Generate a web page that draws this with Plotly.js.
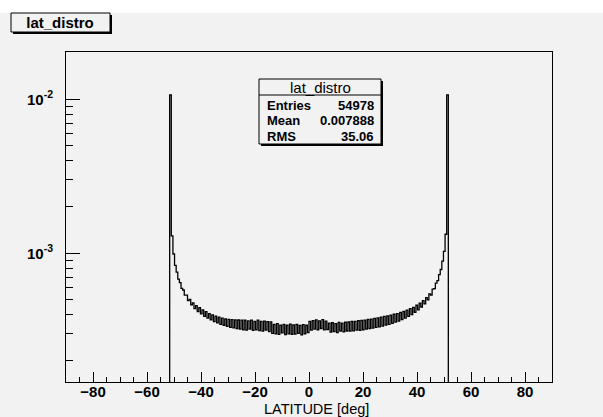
<!DOCTYPE html>
<html>
<head>
<meta charset="utf-8">
<script src="https://cdn.plot.ly/plotly-3.0.1.min.js"></script>
<style>
  html, body { margin: 0; padding: 0; background: #ffffff; }
  #chart { width: 603px; height: 417px; }
</style>
</head>
<body>
<div id="chart"></div>
<script>
// ---- histogram definition -------------------------------------------------
const histName = 'lat_distro';
const xAxisTitle = 'LATITUDE [deg]';
const firstBinLow = -51.6;   // lower edge of the first filled bin [deg]
const binWidth = 0.6;        // bin width [deg]

// bin contents (normalised), from -51.6 deg to +51.6 deg
const binContent = [
  1.07e-2, 1.30e-3, 9.90e-4, 8.35e-4, 7.55e-4, 6.80e-4, 6.45e-4, 5.92e-4, 5.78e-4, 5.36e-4,
  5.36e-4, 4.93e-4, 5.02e-4, 4.62e-4, 4.77e-4, 4.38e-4, 4.58e-4, 4.19e-4, 4.43e-4, 4.04e-4,
  4.29e-4, 3.90e-4, 4.18e-4, 3.79e-4, 4.06e-4, 3.70e-4, 3.98e-4, 3.60e-4, 3.91e-4, 3.53e-4,
  3.85e-4, 3.46e-4, 3.80e-4, 3.41e-4, 3.75e-4, 3.36e-4, 3.72e-4, 3.31e-4, 3.71e-4, 3.28e-4,
  3.69e-4, 3.24e-4, 3.69e-4, 3.22e-4, 3.68e-4, 3.19e-4, 3.68e-4, 3.17e-4, 3.64e-4, 3.22e-4,
  3.68e-4, 3.16e-4, 3.62e-4, 3.19e-4, 3.68e-4, 3.15e-4, 3.62e-4, 3.13e-4, 3.63e-4, 3.17e-4,
  3.60e-4, 3.10e-4, 3.59e-4, 3.02e-4, 3.45e-4, 3.00e-4, 3.49e-4, 2.98e-4, 3.42e-4, 3.04e-4,
  3.46e-4, 2.97e-4, 3.41e-4, 3.00e-4, 3.47e-4, 2.98e-4, 3.43e-4, 2.99e-4, 3.45e-4, 3.02e-4,
  3.40e-4, 2.96e-4, 3.44e-4, 3.00e-4, 3.41e-4, 3.06e-4,
  3.62e-4, 3.17e-4, 3.66e-4, 3.22e-4, 3.70e-4, 3.19e-4, 3.64e-4, 3.25e-4, 3.71e-4, 3.18e-4,
  3.63e-4, 3.20e-4, 3.52e-4, 3.08e-4, 3.55e-4, 3.10e-4, 3.50e-4, 3.06e-4, 3.56e-4, 3.12e-4,
  3.52e-4, 3.09e-4, 3.57e-4, 3.13e-4, 3.58e-4, 3.12e-4, 3.61e-4, 3.14e-4, 3.62e-4, 3.17e-4,
  3.65e-4, 3.16e-4, 3.67e-4, 3.19e-4, 3.68e-4, 3.22e-4, 3.72e-4, 3.25e-4, 3.74e-4, 3.27e-4,
  3.78e-4, 3.30e-4, 3.81e-4, 3.33e-4, 3.85e-4, 3.37e-4, 3.89e-4, 3.42e-4, 3.92e-4, 3.46e-4,
  3.96e-4, 3.51e-4, 4.02e-4, 3.57e-4, 4.06e-4, 3.63e-4, 4.13e-4, 3.71e-4, 4.19e-4, 3.79e-4,
  4.28e-4, 3.89e-4, 4.37e-4, 4.00e-4, 4.46e-4, 4.14e-4, 4.60e-4, 4.29e-4, 4.75e-4, 4.48e-4,
  4.93e-4, 4.70e-4, 5.16e-4, 4.98e-4, 5.46e-4, 5.35e-4, 5.85e-4, 5.90e-4, 6.40e-4, 6.65e-4,
  7.28e-4, 7.85e-4, 8.90e-4, 1.03e-3, 1.33e-3, 1.07e-2
];

// statistics box
const statLabels = ['Entries', 'Mean', 'RMS'];
const statValues = ['54978', '0.007888', '35.06'];

// axis ticks
const xMajorTicks = [-80, -60, -40, -20, 0, 20, 40, 60, 80];
const yDecadeTicks = [1e-3, 1e-2];
const yDecadeLabels = ['10<sup>-3</sup>', '10<sup>-2</sup>'];
const yMinorTicks = [2e-4, 3e-4, 4e-4, 5e-4, 6e-4, 7e-4, 8e-4, 9e-4,
                     2e-3, 3e-3, 4e-3, 5e-3, 6e-3, 7e-3, 8e-3, 9e-3, 2e-2];

// ---- page geometry --------------------------------------------------------
const W = 603, H = 417;
const M = { l: 66, r: 51, t: 52, b: 35 };
const PW = W - M.l - M.r, PH = H - M.t - M.b;
const px = x => (x - M.l) / PW;          // pixel column -> paper x
const py = y => 1 - (y - M.t) / PH;      // pixel row    -> paper y

const FONT = 'Liberation Sans, Arial, Helvetica, sans-serif';
const BG = '#f2f2f2';

// ---- step outline of the histogram ---------------------------------------
// empty bins lie below the log range, so the outline drops to the frame
const emptyLevel = 1e-6;
const xs = [firstBinLow];
const ys = [emptyLevel];
binContent.forEach((c, i) => {
  xs.push(firstBinLow + i * binWidth);
  ys.push(c);
});
xs.push(firstBinLow + binContent.length * binWidth);
ys.push(emptyLevel);

const trace = {
  type: 'scatter',
  mode: 'lines',
  x: xs,
  y: ys,
  line: { shape: 'hv', color: '#000000', width: 1.3 },
  hoverinfo: 'skip',
  showlegend: false
};

// ---- boxes: histogram title pave and statistics pave ---------------------
function pave(x0, y0, x1, y1) {
  return [
    { type: 'rect', xref: 'paper', yref: 'paper', layer: 'above',
      x0: px(x0 + 2), x1: px(x1 + 2), y0: py(y1 + 2), y1: py(y0 + 2),
      fillcolor: '#000000', line: { width: 0 } },
    { type: 'rect', xref: 'paper', yref: 'paper', layer: 'above',
      x0: px(x0), x1: px(x1), y0: py(y1), y1: py(y0),
      fillcolor: BG, line: { color: '#000000', width: 1 } }
  ];
}

const shapes = [
  // white strip above the canvas
  { type: 'rect', xref: 'paper', yref: 'paper', layer: 'below',
    x0: px(0), x1: px(W), y0: py(13), y1: py(0),
    fillcolor: '#ffffff', line: { width: 0 } },
  ...pave(11, 13, 110, 32),
  ...pave(259, 79, 381, 144),
  { type: 'line', xref: 'paper', yref: 'paper', layer: 'above',
    x0: px(259), x1: px(381), y0: py(95), y1: py(95),
    line: { color: '#000000', width: 1 } }
];

const statRows = [105, 120, 136];
const annotations = [
  { text: histName, xref: 'paper', yref: 'paper', x: px(320), y: py(87),
    xanchor: 'center', yanchor: 'middle', showarrow: false,
    font: { family: FONT, size: 15, color: '#000000' } },
  // x-axis title, set toward the right like the ROOT default
  { text: xAxisTitle, xref: 'paper', yref: 'paper', x: px(316), y: py(409),
    xanchor: 'center', yanchor: 'middle', showarrow: false,
    font: { family: FONT, size: 14.5, color: '#000000' } }
];
statLabels.forEach((lab, i) => {
  annotations.push({ text: lab, xref: 'paper', yref: 'paper',
    x: px(265), y: py(statRows[i]), xanchor: 'left', yanchor: 'middle',
    showarrow: false, font: { family: FONT, size: 13, weight: 700, color: '#000000' } });
  annotations.push({ text: statValues[i], xref: 'paper', yref: 'paper',
    x: px(376), y: py(statRows[i]), xanchor: 'right', yanchor: 'middle',
    showarrow: false, font: { family: FONT, size: 13, weight: 700, color: '#000000' } });
});

const layout = {
  width: W,
  height: H,
  margin: M,
  paper_bgcolor: BG,
  plot_bgcolor: BG,
  showlegend: false,
  title: {
    text: histName,
    xref: 'container', yref: 'container',
    x: 60 / W, y: 1 - 23 / H, xanchor: 'center', yanchor: 'middle',
    font: { family: FONT, size: 15, weight: 700, color: '#000000' }
  },
  xaxis: {
    range: [-90, 90],
    tickmode: 'array',
    tickvals: xMajorTicks,
    ticks: 'inside',
    ticklen: 10,
    tickwidth: 1,
    tickcolor: '#000000',
    minor: { tickmode: 'linear', tick0: -90, dtick: 5, ticks: 'inside',
             ticklen: 5, tickwidth: 1, tickcolor: '#000000' },
    ticklabelstandoff: -4,
    showline: true,
    linecolor: '#000000',
    linewidth: 1,
    mirror: true,
    showgrid: false,
    zeroline: false,
    tickfont: { family: FONT, size: 15, weight: 700, color: '#000000' }
  },
  yaxis: {
    type: 'log',
    range: [Math.log10(1.46e-4), Math.log10(2.03e-2)],
    tickmode: 'array',
    tickvals: yDecadeTicks,
    ticktext: yDecadeLabels,
    ticks: 'inside',
    ticklen: 14,
    tickwidth: 1,
    tickcolor: '#000000',
    minor: { tickmode: 'array', tickvals: yMinorTicks, ticks: 'inside',
             ticklen: 7, tickwidth: 1, tickcolor: '#000000' },
    ticklabelstandoff: 9,
    showline: true,
    linecolor: '#000000',
    linewidth: 1,
    mirror: true,
    showgrid: false,
    zeroline: false,
    tickfont: { family: FONT, size: 15, weight: 700, color: '#000000' }
  },
  shapes: shapes,
  annotations: annotations
};

Plotly.newPlot('chart', [trace], layout, { staticPlot: true, displayModeBar: false });
</script>
</body>
</html>
